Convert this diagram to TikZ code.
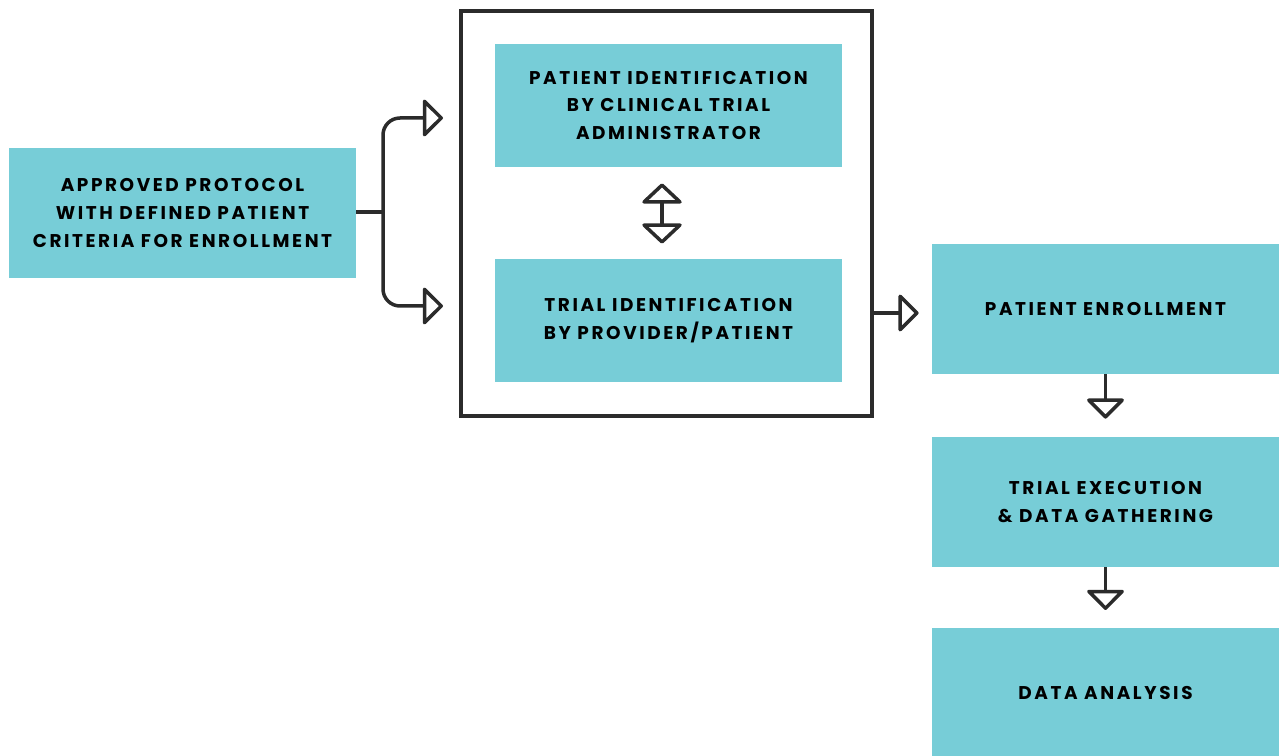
\documentclass[tikz,border=0pt]{standalone}
\usepackage{fontspec}
\setmainfont{Poppins}[LetterSpace=14]
\usepackage{tikz}
\usetikzlibrary{arrows.meta}

\definecolor{boxteal}{HTML}{77CDD7}
\definecolor{linegray}{HTML}{2B2B2B}

\tikzset{
  stepbox/.style={fill=boxteal, draw=none, minimum width=347*0.02cm, align=center,
    font=\fontsize{10.5}{15.9}\selectfont\bfseries, inner sep=0pt},
  arr/.style={draw=linegray, line width=0.07cm, line join=round,
    -{Triangle[open, length=0.42cm, width=0.82cm, round]}},
  dblarr/.style={draw=linegray, line width=0.07cm, line join=round,
    {Triangle[open, length=0.42cm, width=0.88cm, round]}-{Triangle[open, length=0.42cm, width=0.88cm, round]}}
}

\begin{document}
\begin{tikzpicture}[x=0.02cm, y=-0.02cm]
			\useasboundingbox (0,0) rectangle (1279,756);
			% boxes
			\node[stepbox, minimum height=130*0.02cm] (proto) at (182.5,213) {APPROVED PROTOCOL\\WITH DEFINED PATIENT\\CRITERIA FOR ENROLLMENT};
			\node[draw=linegray, line width=0.07cm, minimum width=411*0.02cm, minimum height=405*0.02cm] (frame) at (666.5,213.5) {};
			\node[stepbox, minimum height=123*0.02cm] (pid) at (668.5,105.5) {PATIENT IDENTIFICATION\\BY CLINICAL TRIAL\\ADMINISTRATOR};
			\node[stepbox, minimum height=123*0.02cm] (tid) at (668.5,320.5) {TRIAL IDENTIFICATION\\BY PROVIDER/PATIENT};
			\node[stepbox, minimum height=130*0.02cm] (enroll) at (1105.5,309) {PATIENT ENROLLMENT};
			\node[stepbox, minimum height=130*0.02cm] (exec) at (1105.5,502) {TRIAL EXECUTION\\\& DATA GATHERING};
			\node[stepbox, minimum height=130*0.02cm, anchor=north] (analysis) at (1105.5,628) {};
			\node[font=\fontsize{10.5}{15.9}\selectfont\bfseries] (analysistext) at (1105.5,693) {DATA ANALYSIS};
			% fork into the frame
			\coordinate (fork) at (383,212);
			\coordinate (intop) at (443,118);
			\coordinate (inbot) at (443,306);
			\draw[draw=linegray, line width=0.07cm] (proto.east |- fork) -- (fork);
			\draw[arr, rounded corners=0.34cm] (fork) |- (intop);
			\draw[arr, rounded corners=0.34cm] (fork) |- (inbot);
			% between the two identifications
			\draw[dblarr, shorten <=16*0.02cm, shorten >=15*0.02cm] (pid.south -| 662,0) -- (tid.north -| 662,0);
			% out of the frame
			\draw[arr, shorten >=13*0.02cm] (frame.east |- 0,313) -- (enroll.west |- 0,313);
			\draw[arr, shorten >=18*0.02cm] (enroll.south) -- (exec.north);
			\draw[arr, shorten >=18*0.02cm] (exec.south) -- (analysis.north);
		\end{tikzpicture}
\end{document}
